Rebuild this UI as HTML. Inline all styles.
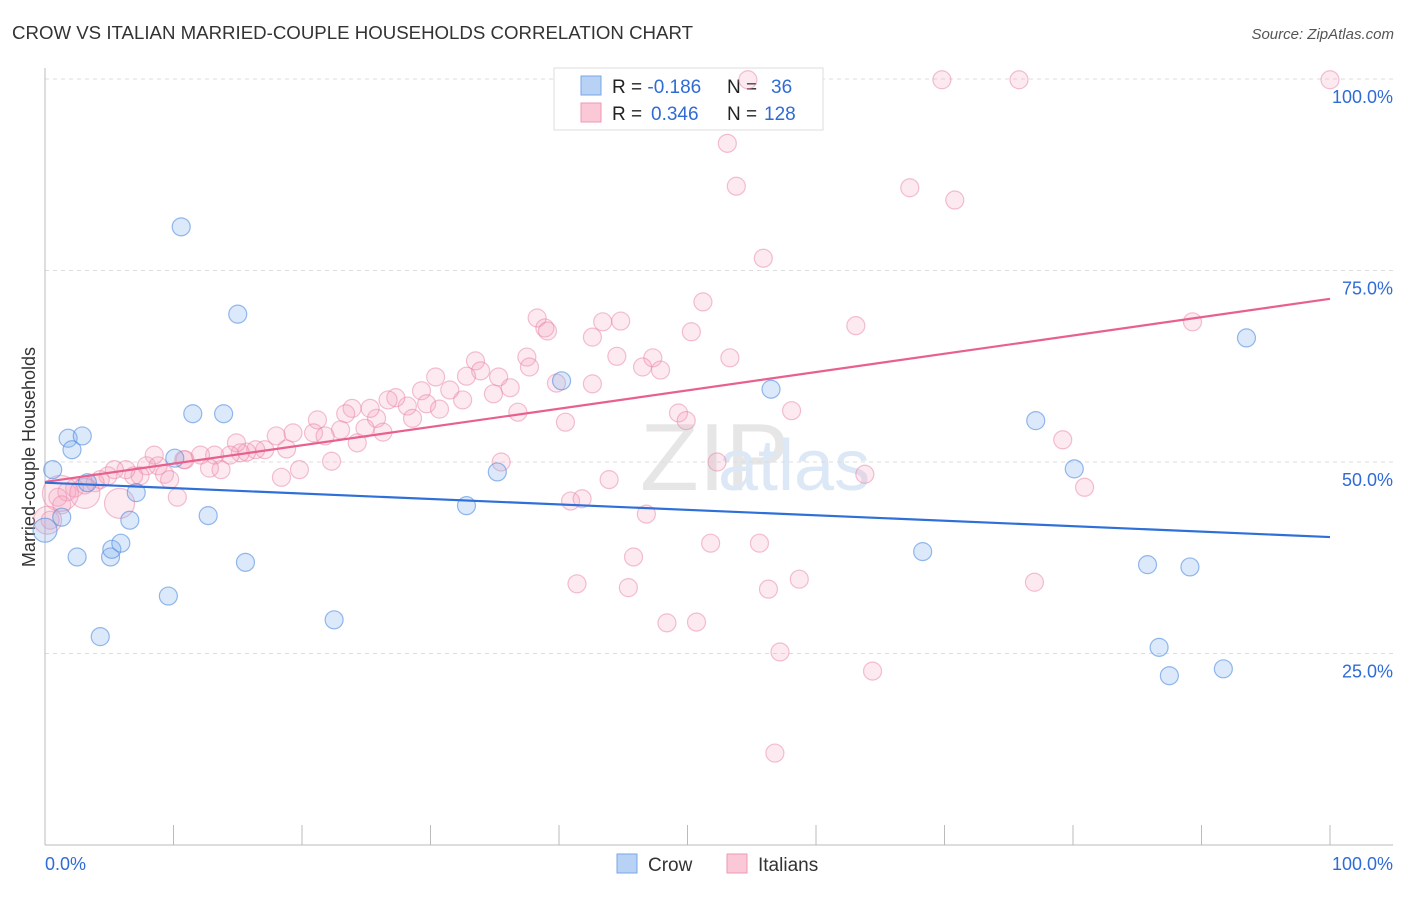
<!DOCTYPE html>
<html><head><meta charset="utf-8"><style>
body{margin:0;background:#fff;font-family:"Liberation Sans",sans-serif}
svg text{font-family:"Liberation Sans",sans-serif}
</style></head><body>
<svg id="c" width="1406" height="892">
<text x="12" y="39" font-size="18" fill="#333" textLength="681" lengthAdjust="spacingAndGlyphs">CROW VS ITALIAN MARRIED-COUPLE HOUSEHOLDS CORRELATION CHART</text>
<text x="1394" y="39" font-size="15" fill="#555" font-style="italic" text-anchor="end">Source: ZipAtlas.com</text>
<text x="640" y="490" font-size="96" fill="#e6e6e6" font-family="Liberation Serif">ZIP</text>
<text x="718" y="490" font-size="72" fill="#dde8f6">atlas</text>
<text transform="translate(35,457) rotate(-90)" font-size="18" fill="#333" text-anchor="middle">Married-couple Households</text>
<g id="grid"></g>
<g>
<rect x="554" y="68" width="269" height="62" fill="#fff" stroke="#ddd"/>
<rect x="581" y="76" width="20" height="19" fill="#b8d2f5" stroke="#7aa6e6"/>
<rect x="581" y="103" width="20" height="19" fill="#fbc8d7" stroke="#ec9ab5"/>
<text x="612" y="93" font-size="19" fill="#222">R = <tspan fill="#2f6bd6">-0.186</tspan><tspan x="727">N = </tspan><tspan x="771" fill="#2f6bd6">36</tspan></text>
<text x="612" y="120" font-size="19" fill="#222">R = <tspan fill="#2f6bd6" x="651">0.346</tspan><tspan x="727">N = </tspan><tspan x="764" fill="#2f6bd6">128</tspan></text>
</g>
<g id="pts"></g><g id="lines"></g>
<g>
<rect x="617" y="854" width="20" height="19" fill="#b8d2f5" stroke="#7aa6e6"/>
<text x="648" y="871" font-size="19" fill="#333">Crow</text>
<rect x="727" y="854" width="20" height="19" fill="#fbc8d7" stroke="#ec9ab5"/>
<text x="758" y="871" font-size="19" fill="#333">Italians</text>
</g>
<text x="45" y="870" font-size="18" fill="#2f6bd6">0.0%</text>
<text x="1393" y="870" font-size="18" fill="#2f6bd6" text-anchor="end">100.0%</text>
</svg>
<script>
const crowX=[0,0.6,1.8,2.1,2.9,1.3,2.5,4.3,5.1,5.2,5.9,6.6,7.1,9.6,10.6,10.1,11.5,12.7,13.9,15.0,15.6,22.5,32.8,35.2,40.2,56.5,68.3,77.1,80.1,85.8,86.7,87.5,89.1,91.7,93.5,3.3];
const crowY=[41.1,49.0,53.1,51.6,53.4,42.8,37.6,27.2,37.6,38.6,39.4,42.4,46.0,32.5,80.7,50.5,56.3,43.0,56.3,69.3,36.9,29.4,44.3,48.7,60.6,59.5,38.3,55.4,49.1,36.6,25.8,22.1,36.3,23.0,66.2,47.3];
const itaX=[69.8,75.8,100,54.7,53.1,53.8,67.3,70.8,55.9,51.2,50.3,63.1,89.3,53.3,47.3,44.5,46.5,47.9,42.6,39.8,38.3,38.9,39.1,43.4,44.8,42.6,37.5,37.7,36.2,36.8,35.3,34.9,33.5,33.9,32.8,32.5,31.5,30.4,29.3,29.7,30.7,28.2,28.6,27.3,26.7,25.8,25.3,23.9,23.4,26.3,24.9,23.0,24.3,21.2,20.9,21.8,19.3,18.0,22.3,19.8,18.8,18.4,17.1,16.4,15.7,15.2,14.9,14.4,13.7,13.2,12.1,10.9,12.8,10.8,10.3,8.5,8.8,9.3,9.7,7.9,7.4,6.9,6.3,5.4,4.9,4.3,3.9,3.1,2.3,1.7,1.0,1.3,0.4,1.2,3.1,5.8,0.2,35.5,52.3,63.8,79.2,80.9,40.5,49.3,49.9,58.1,43.9,40.9,41.8,46.8,45.8,51.8,55.6,41.4,45.4,56.3,58.7,77.0,48.4,50.7,57.2,64.4,56.8];
const itaY=[99.9,99.9,99.9,99.9,91.6,86.0,85.8,84.2,76.6,70.9,67.0,67.8,68.3,63.6,63.6,63.8,62.4,62.0,60.2,60.3,68.8,67.5,67.1,68.3,68.4,66.3,63.7,62.4,59.7,56.5,61.1,58.9,63.2,61.9,61.2,58.1,59.4,61.1,59.3,57.6,56.9,57.3,55.7,58.4,58.1,55.7,57.0,57.0,56.3,53.9,54.4,54.2,52.5,55.5,53.8,53.4,53.8,53.4,50.1,49.0,51.7,48.0,51.6,51.6,51.3,51.2,52.5,50.9,49.0,50.9,50.9,50.3,49.2,50.3,45.4,50.9,49.5,48.4,47.7,49.5,48.2,48.2,49.0,49.0,48.2,47.7,47.3,47.0,46.6,46.1,45.4,44.4,42.4,45.9,45.9,44.6,42.4,50.0,50.0,48.4,52.9,46.7,55.2,56.4,55.4,56.7,47.7,44.9,45.2,43.2,37.6,39.4,39.4,34.1,33.6,33.4,34.7,34.3,29.0,29.1,25.2,22.7,12.0];
const itaR=[9,9,9,9,9,9,9,9,9,9,9,9,9,9,9,9,9,9,9,9,9,9,9,9,9,9,9,9,9,9,9,9,9,9,9,9,9,9,9,9,9,9,9,9,9,9,9,9,9,9,9,9,9,9,9,9,9,9,9,9,9,9,9,9,9,9,9,9,9,9,9,9,9,9,9,9,9,9,9,9,9,9,9,9,9,9,9,9,9,9,9,9,9,18,15,15,14,9,9,9,9,9,9,9,9,9,9,9,9,9,9,9,9,9,9,9,9,9,9,9,9,9,9];
const crowTrend=[47.3,40.2];
const itaTrend=[47.4,71.3];
const yTicks=[100,75,50,25];
const yTickLabels=["100.0%","75.0%","50.0%","25.0%"];
const xTicks=[0,10,20,30,40,50,60,70,80,90,100];
const X=v=>45+v*12.85, Y=v=>845-v*7.66;
const NS="http://www.w3.org/2000/svg";
function mk(t,a,p){const e=document.createElementNS(NS,t);for(const k in a)e.setAttribute(k,a[k]);p.appendChild(e);return e;}
const g=document.getElementById('grid'),pts=document.getElementById('pts'),ln=document.getElementById('lines');
yTicks.forEach((v,i)=>{
 const l=mk('line',{x1:45,x2:1393,y1:Y(v),y2:Y(v),stroke:'#ddd','stroke-dasharray':'4 4'},g);
 
 
 const t=mk('text',{x:1393,y:Y(v)+24,'font-size':18,fill:'#2f6bd6','text-anchor':'end'},g);
 t.textContent=yTickLabels[i];
 
 
});
mk('line',{x1:45,x2:45,y1:68,y2:845,stroke:'#bbb'},g);
mk('line',{x1:45,x2:1393,y1:845,y2:845,stroke:'#bbb'},g);
xTicks.forEach(v=>{
 const l=mk('line',{x1:X(v),x2:X(v),y1:825,y2:845,stroke:'#bbb'},g);
 
 
});
itaX.forEach((x,i)=>{
 const c=mk('circle',{cx:X(x),cy:Y(itaY[i]),r:itaR[i],fill:'rgba(244,160,188,0.22)',stroke:'rgba(232,130,165,0.5)','stroke-width':1.2},pts);
 
 
});
crowX.forEach((x,i)=>{
 const c=mk('circle',{cx:X(x),cy:Y(crowY[i]),r:i===0?12:9,fill:'rgba(130,175,238,0.28)',stroke:'rgba(80,140,225,0.6)','stroke-width':1.2},pts);
 
 
});
const l1=mk('line',{x1:X(0),x2:X(100),y1:Y(itaTrend[0]),y2:Y(itaTrend[1]),stroke:'#e8608e','stroke-width':2.2},ln);


const l2=mk('line',{x1:X(0),x2:X(100),y1:Y(crowTrend[0]),y2:Y(crowTrend[1]),stroke:'#2f6fd8','stroke-width':2.2},ln);


</script>
</body></html>
